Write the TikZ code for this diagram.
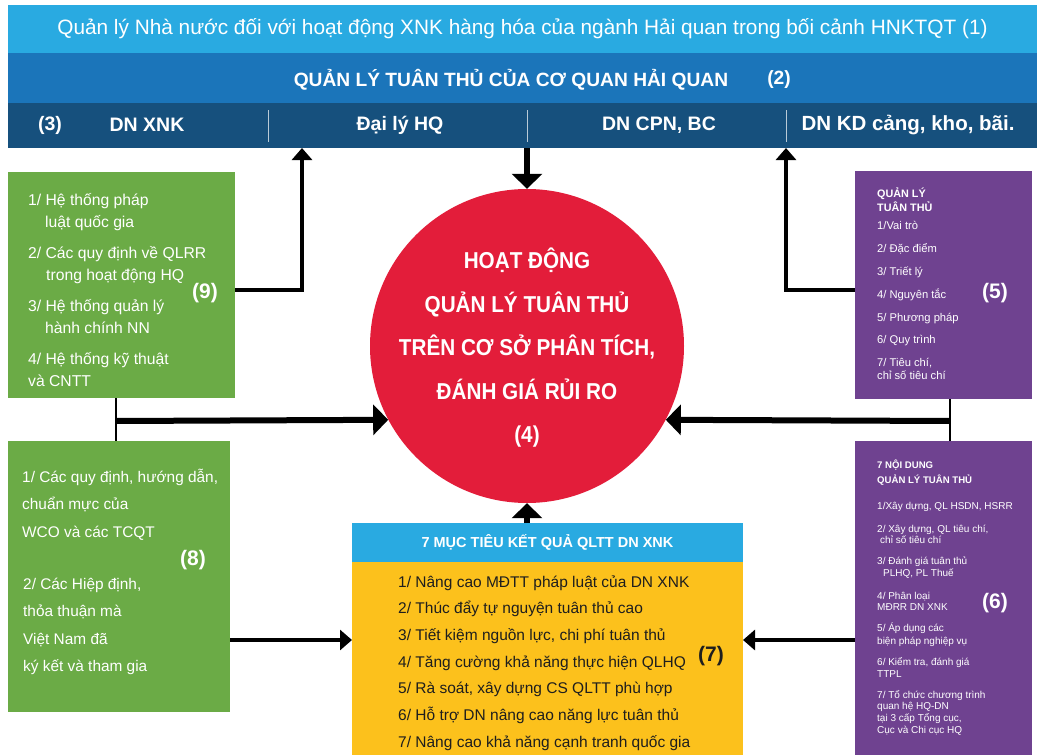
\documentclass[tikz,border=0pt]{standalone}
\usepackage{fontspec}
\setmainfont{Liberation Sans}
\newfontfamily\condfont[FakeStretch=0.9]{Liberation Sans}
\usetikzlibrary{arrows.meta}

\definecolor{skyblue}{HTML}{29AAE1}
\definecolor{midblue}{HTML}{1B75BA}
\definecolor{navyblue}{HTML}{16507D}
\definecolor{riskred}{HTML}{E31D3A}
\definecolor{lawgreen}{HTML}{6BAB46}
\definecolor{plumpurple}{HTML}{6F4290}
\definecolor{goalyellow}{HTML}{FCC11C}
\definecolor{inkdark}{HTML}{1E1E1E}

\begin{document}
\begin{tikzpicture}[x=1pt, y=-1pt,
  panel/.style={anchor=north west, inner sep=0pt, outer sep=0pt},
  flow/.style={line width=4pt, -{Triangle[width=20pt,length=12pt]}},
  bigflow/.style={line width=6pt, -{Triangle[width=30pt,length=15pt]}},
  tick/.style={line width=2pt},
  divider/.style={line width=0.8pt, draw=white!70!navyblue},
  txt/.style={anchor=west, align=left, inner sep=0pt, text=white},
  tag/.style={inner sep=0pt, text=white, font=\bfseries\fontsize{21}{21}\selectfont}]

\useasboundingbox (0,0) rectangle (1037,755);

% top bars
\node[panel, fill=skyblue, minimum width=1029pt, minimum height=48pt, text=white,
  font=\fontsize{20.8}{22}\selectfont] (state) at (8,5)
  {Quản lý Nhà nước đối với hoạt động XNK hàng hóa của ngành Hải quan trong bối cảnh HNKTQT (1)};
\node[panel, fill=midblue, minimum width=1029pt, minimum height=50pt] (customs) at (8,53) {};
\node[tag, font=\bfseries\fontsize{19.2}{19}\selectfont] (customstext) at (511,80) {QUẢN LÝ TUÂN THỦ CỦA CƠ QUAN HẢI QUAN};
\node[tag, font=\bfseries\fontsize{19.2}{19}\selectfont] (customsno) at (779,80) {(2)};
\node[panel, fill=navyblue, minimum width=1029pt, minimum height=45pt] (firms) at (8,103) {};
\node[tag, font=\bfseries\fontsize{19.5}{20}\selectfont] (firmsno) at (50,125) {(3)};
\node[tag, font=\bfseries\fontsize{19.5}{20}\selectfont] (traders) at (147,125) {DN XNK};
\node[tag, font=\bfseries\fontsize{19.5}{20}\selectfont] (agents) at (400,125) {Đại lý HQ};
\node[tag, font=\bfseries\fontsize{19.5}{20}\selectfont] (couriers) at (659,125) {DN CPN, BC};
\node[tag, font=\bfseries\fontsize{20.5}{20}\selectfont] (ports) at (908,125) {DN KD cảng, kho, bãi.};
\draw[divider] (268,110) -- (268,142);
\draw[divider] (527,110) -- (527,142);
\draw[divider] (786,110) -- (786,142);

% circle (4)
\node[circle, fill=riskred, minimum size=314pt, inner sep=0pt] (core) at (527,346) {};
\node[align=center, inner sep=0pt, text=white, font=\condfont\bfseries\fontsize{23}{43.5}\selectfont] (coretext) at (527,348)
  {HOẠT ĐỘNG\\QUẢN LÝ TUÂN THỦ\\TRÊN CƠ SỞ PHÂN TÍCH,\\ĐÁNH GIÁ RỦI RO\\(4)};

% green box (9)
\node[panel, fill=lawgreen, minimum width=227pt, minimum height=226pt] (law) at (8,172) {};
\node[txt, font=\fontsize{15.7}{22}\selectfont] (law1) at (28,212) {1/ Hệ thống pháp\\\hspace*{17pt}luật quốc gia};
\node[txt, font=\fontsize{15.7}{22}\selectfont] (law2) at (28,265) {2/ Các quy định về QLRR\\\hspace*{18pt}trong hoạt động HQ};
\node[txt, font=\fontsize{15.7}{22}\selectfont] (law3) at (28,317) {3/ Hệ thống quản lý\\\hspace*{17pt}hành chính NN};
\node[txt, font=\fontsize{15.7}{22}\selectfont] (law4) at (28,370) {4/ Hệ thống kỹ thuật\\và CNTT};
\node[tag] (lawno) at (205,293) {(9)};

% green box (8)
\node[panel, fill=lawgreen, minimum width=222pt, minimum height=271pt] (intl) at (8,441) {};
\node[txt, font=\fontsize{15.4}{27.5}\selectfont] (intl1) at (22,504.5) {1/ Các quy định, hướng dẫn,\\chuẩn mực của\\WCO và các TCQT};
\node[txt, font=\fontsize{15.4}{27.5}\selectfont] (intl2) at (23,626.5) {2/ Các Hiệp định,\\thỏa thuận mà\\Việt Nam đã\\ký kết và tham gia};
\node[tag] (intlno) at (193,560) {(8)};

% purple box (5)
\node[panel, fill=plumpurple, minimum width=177pt, minimum height=228pt] (mgmt) at (855,171) {};
\node[txt, font=\bfseries\fontsize{10.8}{14}\selectfont] (mgmthead) at (877,200) {QUẢN LÝ\\TUÂN THỦ};
\node[txt, font=\fontsize{11.2}{22.8}\selectfont] (mgmt1) at (877,284)
  {1/Vai trò\\2/ Đặc điểm\\3/ Triết lý\\4/ Nguyên tắc\\5/ Phương pháp\\6/ Quy trình};
\node[txt, font=\fontsize{11.2}{13}\selectfont] (mgmt2) at (877,368.5) {7/ Tiêu chí,\\chỉ số tiêu chí};
\node[tag] (mgmtno) at (995,293) {(5)};

% purple box (6)
\node[panel, fill=plumpurple, minimum width=177pt, minimum height=314pt] (content) at (855,441) {};
\node[txt, font=\bfseries\fontsize{9.6}{15}\selectfont] (contenthead) at (877,472.5) {7 NỘI DUNG\\QUẢN LÝ TUÂN THỦ};
\node[txt, font=\fontsize{10}{11.5}\selectfont] (content1) at (877,507) {1/Xây dựng, QL HSDN, HSRR};
\node[txt, font=\fontsize{10}{11.5}\selectfont] (content2) at (877,534.5) {2/ Xây dựng, QL tiêu chí,\\\hspace*{3pt}chỉ số tiêu chí};
\node[txt, font=\fontsize{10}{11.5}\selectfont] (content3) at (877,567.5) {3/ Đánh giá tuân thủ\\\hspace*{6pt}PLHQ, PL Thuế};
\node[txt, font=\fontsize{10}{11.5}\selectfont] (content4) at (877,601.5) {4/ Phân loại\\MĐRR DN XNK};
\node[txt, font=\fontsize{10}{12.5}\selectfont] (content5) at (877,634.5) {5/ Áp dụng các\\biện pháp nghiệp vụ};
\node[txt, font=\fontsize{10}{11.5}\selectfont] (content6) at (877,667.5) {6/ Kiểm tra, đánh giá\\TTPL};
\node[txt, font=\fontsize{10}{11.7}\selectfont] (content7) at (877,712.5)
  {7/ Tổ chức chương trình\\quan hệ HQ-DN\\tại 3 cấp Tổng cục,\\Cục và Chi cục HQ};
\node[tag] (contentno) at (995,603) {(6)};

% yellow box (7)
\node[panel, fill=skyblue, minimum width=391pt, minimum height=39pt, text=white,
  font=\bfseries\fontsize{14.5}{15}\selectfont] (goals) at (352,523) {7 MỤC TIÊU KẾT QUẢ QLTT DN XNK};
\node[panel, fill=goalyellow, minimum width=391pt, minimum height=193pt] (goalsbody) at (352,562) {};
\node[txt, text=inkdark, font=\fontsize{15.5}{26.7}\selectfont] (goalslist) at (398,663)
  {1/ Nâng cao MĐTT pháp luật của DN XNK\\2/ Thúc đẩy tự nguyện tuân thủ cao\\3/ Tiết kiệm nguồn lực, chi phí tuân thủ\\4/ Tăng cường khả năng thực hiện QLHQ\\5/ Rà soát, xây dựng CS QLTT phù hợp\\6/ Hỗ trợ DN nâng cao năng lực tuân thủ\\7/ Nâng cao khả năng cạnh tranh quốc gia};
\node[tag, text=inkdark, font=\bfseries\fontsize{21}{21}\selectfont] (goalsno) at (711,656) {(7)};

% connectors
\coordinate (lawout) at (235,290);
\coordinate (agentin) at (302,148);
\coordinate (mgmtout) at (855,290);
\coordinate (portin) at (786,148);
\coordinate (tickL) at (116,421);
\coordinate (tickR) at (950,421);
\coordinate (intlout) at (230,640);
\coordinate (contentout) at (855,640);

\draw[flow] (lawout) -| (agentin);
\draw[flow] (mgmtout) -| (portin);
\draw[bigflow] (core.north |- firms.south) -- (core.north);
\draw[bigflow] (core.south |- goals.north) -- (core.south);
\draw[tick] (law.south -| tickL) -- (intl.north -| tickL);
\draw[tick] (mgmt.south -| tickR) -- (content.north -| tickR);
\draw[bigflow] (tickL) -- (core.208.5);
\draw[bigflow] (tickR) -- (core.-28.5);
\draw[flow] (intlout) -- (intlout -| goalsbody.west);
\draw[flow] (contentout) -- (contentout -| goalsbody.east);

\end{tikzpicture}
\end{document}
